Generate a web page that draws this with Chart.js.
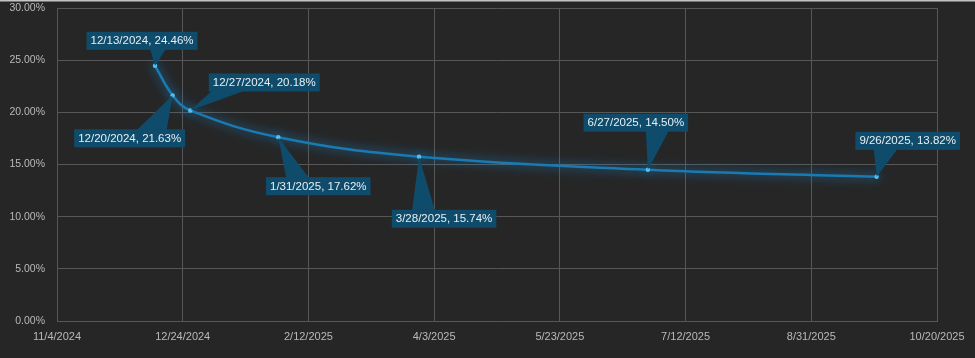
<!DOCTYPE html>
<html>
<head>
<meta charset="utf-8">
<script src="https://cdn.jsdelivr.net/npm/chart.js@4"></script>
<style>
  html, body { margin: 0; padding: 0; background: #262626; }
  #wrap { width: 975px; height: 358px; position: relative; }
</style>
</head>
<body>
<div id="wrap"><canvas id="c" width="975" height="358"></canvas></div>
<script>
// ---- data ----
const dates = ['12/13/2024', '12/20/2024', '12/27/2024', '1/31/2025', '3/28/2025', '6/27/2025', '9/26/2025'];
const values = [24.46, 21.63, 20.18, 17.62, 15.74, 14.50, 13.82];
const xTickLabels = ['11/4/2024', '12/24/2024', '2/12/2025', '4/3/2025', '5/23/2025', '7/12/2025', '8/31/2025', '10/20/2025'];
const yTickLabels = ['0.00%', '5.00%', '10.00%', '15.00%', '20.00%', '25.00%', '30.00%'];

// ---- helpers ----
function parseUS(s) { const [m, d, y] = s.split('/').map(Number); return Date.UTC(y, m - 1, d); }
const origin = parseUS(xTickLabels[0]);
const dayStep = (parseUS(xTickLabels[1]) - origin) / 864e5;
const xMax = (parseUS(xTickLabels[xTickLabels.length - 1]) - origin) / 864e5;
const points = dates.map((d, i) => ({ x: (parseUS(d) - origin) / 864e5, y: values[i] }));

// callout layout (style): box centre offset from point, wedge side and base (relative to box centre x)
const callouts = [
  { dx: -13, dy: -25, side: 'bottom', b1: 8, b2: 24 },
  { dx: -43, dy: 43, side: 'top', b1: 7, b2: 37 },
  { dx: 74, dy: -28, side: 'bottom', b1: -52, b2: -19 },
  { dx: 40, dy: 49, side: 'top', b1: -32, b2: -9 },
  { dx: 25, dy: 62, side: 'top', b1: -32, b2: -9 },
  { dx: -12, dy: -47, side: 'bottom', b1: 10, b2: 33 },
  { dx: 31, dy: -36, side: 'bottom', b1: -34, b2: -10 }
];

const glow = {
  id: 'glow',
  beforeDatasetDraw(chart) {
    const ctx = chart.ctx;
    ctx.save();
    ctx.shadowColor = 'rgba(30,150,230,0.9)';
    ctx.shadowBlur = 11;
  },
  afterDatasetDraw(chart) { chart.ctx.restore(); }
};

const labelsPlugin = {
  id: 'callouts',
  afterDraw(chart) {
    const ctx = chart.ctx;
    ctx.save();
    // top frame line
    ctx.fillStyle = '#c4c4c4';
    ctx.fillRect(0, 0, chart.width, 1.5);
    const meta = chart.getDatasetMeta(0);
    ctx.font = '11.5px "Liberation Sans", Arial, sans-serif';
    ctx.textBaseline = 'middle';
    ctx.textAlign = 'center';
    meta.data.forEach((el, i) => {
      const c = callouts[i];
      const text = dates[i] + ', ' + values[i].toFixed(2) + '%';
      const w = ctx.measureText(text).width + 8;
      const h = 18;
      const cx = el.x + c.dx, cy = el.y + c.dy;
      const left = cx - w / 2, top = cy - h / 2;
      ctx.fillStyle = '#0f4c6b';
      const by = c.side === 'top' ? top + 1 : top + h - 1;
      ctx.beginPath();
      ctx.moveTo(cx + c.b1, by);
      ctx.lineTo(cx + c.b2, by);
      ctx.lineTo(el.x, el.y);
      ctx.closePath();
      ctx.fill();
      ctx.fillRect(left, top, w, h);
      ctx.fillStyle = '#e9eef2';
      ctx.fillText(text, cx, cy + 0.5);
    });
    ctx.restore();
  }
};

new Chart(document.getElementById('c'), {
  type: 'scatter',
  data: {
    datasets: [{
      data: points,
      showLine: true,
      borderColor: '#1a7ab2',
      borderWidth: 2.5,
      tension: 0.4,
      pointRadius: 2.2,
      pointBackgroundColor: '#52c3f5',
      pointBorderWidth: 0,
      clip: false
    }]
  },
  options: {
    responsive: false,
    animation: false,
    devicePixelRatio: 1,
    layout: { padding: { top: 8, right: 38, left: 0, bottom: 0 } },
    plugins: { legend: { display: false }, tooltip: { enabled: false } },
    scales: {
      x: {
        type: 'linear',
        min: 0, max: xMax,
        ticks: {
          stepSize: dayStep,
          color: '#b9b9b9',
          font: { family: '"Liberation Sans", Arial, sans-serif', size: 11 },
          padding: 9,
          maxRotation: 0,
          autoSkip: false,
          callback: (v) => xTickLabels[Math.round(v / dayStep)]
        },
        grid: { color: '#575757', lineWidth: 1, drawTicks: false },
        border: { color: '#575757', width: 1 },
        afterFit: (s) => { s.height = 37; s.paddingLeft = 0; s.paddingRight = 0; }
      },
      y: {
        min: 0, max: 30,
        ticks: {
          stepSize: 5,
          color: '#b9b9b9',
          font: { family: '"Liberation Sans", Arial, sans-serif', size: 10.5 },
          padding: 12,
          callback: (v) => yTickLabels[Math.round(v / 5)]
        },
        grid: { color: '#575757', lineWidth: 1, drawTicks: false },
        border: { color: '#575757', width: 1 },
        afterFit: (s) => { s.width = 57; s.paddingTop = 0; s.paddingBottom = 0; }
      }
    }
  },
  plugins: [glow, labelsPlugin]
});
</script>
</body>
</html>
